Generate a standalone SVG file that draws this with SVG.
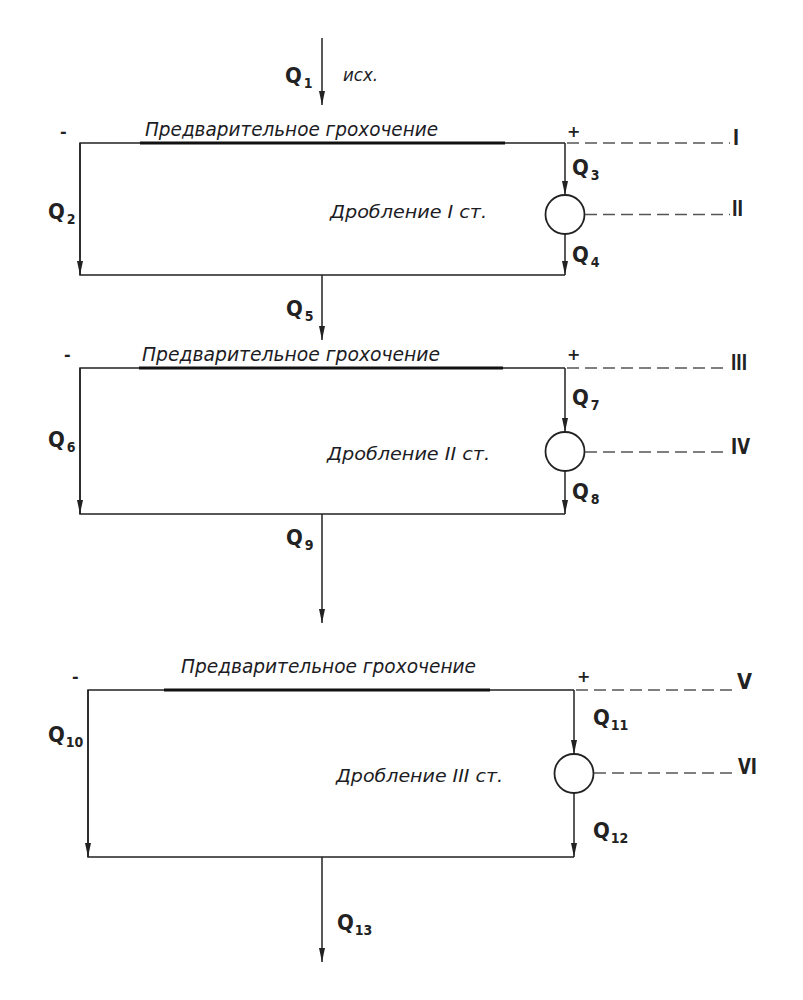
<svg xmlns="http://www.w3.org/2000/svg" width="803" height="1000" viewBox="0 0 803 1000">
<style>
.bg{fill:#fff}
.ln{stroke:#222;stroke-width:1.5;fill:none}
.thick{stroke:#111;stroke-width:3.2;fill:none}
.dash{stroke:#555;stroke-width:1.6;stroke-dasharray:12 6;fill:none}
.crc{stroke:#222;stroke-width:1.8;fill:#fff}
.q{font-family:"DejaVu Sans Condensed","DejaVu Sans",sans-serif;font-weight:bold;font-size:22px;fill:#222}
.sub{font-size:14px}
.rn{font-family:"DejaVu Sans Condensed","DejaVu Sans",sans-serif;font-weight:bold;font-size:22px;fill:#222}
.pm{font-family:"DejaVu Sans",sans-serif;font-weight:bold;font-size:16px;fill:#222}
.cap{font-family:"DejaVu Sans Condensed","DejaVu Sans",sans-serif;font-style:italic;font-size:20px;fill:#1c1c24}
.cap2{font-family:"DejaVu Sans Condensed","DejaVu Sans",sans-serif;font-style:italic;font-size:18px;fill:#1c1c24}
</style>
<defs>
<marker id="ah" markerUnits="userSpaceOnUse" markerWidth="14" markerHeight="6" refX="14" refY="3" orient="auto">
<path d="M0,0 L14,3 L0,6 z" fill="#222"/>
</marker>
</defs>
<rect class="bg" x="0" y="0" width="803" height="1000"/>

<g id="connectors">
<line class="ln" x1="322" y1="38" x2="322" y2="105" marker-end="url(#ah)"/>
<line class="ln" x1="322" y1="275" x2="322" y2="340" marker-end="url(#ah)"/>
<line class="ln" x1="322" y1="514" x2="322" y2="623" marker-end="url(#ah)"/>
<line class="ln" x1="322" y1="857" x2="322" y2="962" marker-end="url(#ah)"/>
</g>

<g id="block1">
<polyline class="ln" points="565,143 80,143 80,275 565,275"/>
<line class="thick" x1="140" y1="143" x2="505" y2="143"/>
<line class="ln" x1="80" y1="143" x2="80" y2="275" marker-end="url(#ah)"/>
<line class="ln" x1="565" y1="143" x2="565" y2="195" marker-end="url(#ah)"/>
<line class="ln" x1="565" y1="234" x2="565" y2="275" marker-end="url(#ah)"/>
<circle class="crc" cx="565" cy="214.5" r="19.5"/>
<line class="dash" x1="567" y1="143" x2="730" y2="143"/>
<line class="dash" x1="585" y1="214.5" x2="730" y2="214.5"/>
<text class="pm" x="60" y="137">-</text>
<text class="pm" x="567" y="137">+</text>
<text class="cap" x="145" y="136" textLength="293" lengthAdjust="spacingAndGlyphs">Предварительное грохочение</text>
<text class="cap2" x="330" y="218" textLength="157" lengthAdjust="spacingAndGlyphs">Дробление I ст.</text>
<text class="rn" x="733" y="145" textLength="6" lengthAdjust="spacingAndGlyphs">I</text>
<text class="rn" x="732" y="216" textLength="11" lengthAdjust="spacingAndGlyphs">II</text>
</g>

<g id="block2">
<polyline class="ln" points="565,368 80,368 80,514 565,514"/>
<line class="thick" x1="139" y1="368" x2="503" y2="368"/>
<line class="ln" x1="80" y1="368" x2="80" y2="514" marker-end="url(#ah)"/>
<line class="ln" x1="565" y1="368" x2="565" y2="432" marker-end="url(#ah)"/>
<line class="ln" x1="565" y1="471" x2="565" y2="514" marker-end="url(#ah)"/>
<circle class="crc" cx="565" cy="451.5" r="19.5"/>
<line class="dash" x1="567" y1="368" x2="728" y2="368"/>
<line class="dash" x1="585" y1="452" x2="728" y2="452"/>
<text class="pm" x="64" y="360">-</text>
<text class="pm" x="567" y="360">+</text>
<text class="cap" x="142" y="361" textLength="298" lengthAdjust="spacingAndGlyphs">Предварительное грохочение</text>
<text class="cap2" x="327" y="460" textLength="163" lengthAdjust="spacingAndGlyphs">Дробление II ст.</text>
<text class="rn" x="731" y="370" textLength="16" lengthAdjust="spacingAndGlyphs">III</text>
<text class="rn" x="731" y="454" textLength="19" lengthAdjust="spacingAndGlyphs">IV</text>
</g>

<g id="block3">
<polyline class="ln" points="574,690 88,690 88,857 574,857"/>
<line class="thick" x1="164" y1="690" x2="490" y2="690"/>
<line class="ln" x1="88" y1="690" x2="88" y2="857" marker-end="url(#ah)"/>
<line class="ln" x1="574" y1="690" x2="574" y2="754" marker-end="url(#ah)"/>
<line class="ln" x1="574" y1="793" x2="574" y2="857" marker-end="url(#ah)"/>
<circle class="crc" cx="574" cy="773.5" r="19.5"/>
<line class="dash" x1="576" y1="690" x2="735" y2="690"/>
<line class="dash" x1="594" y1="773" x2="735" y2="773"/>
<text class="pm" x="72" y="682">-</text>
<text class="pm" x="577" y="682">+</text>
<text class="cap" x="181" y="673" textLength="295" lengthAdjust="spacingAndGlyphs">Предварительное грохочение</text>
<text class="cap2" x="336" y="782" textLength="167" lengthAdjust="spacingAndGlyphs">Дробление III ст.</text>
<text class="rn" x="737" y="689" textLength="15" lengthAdjust="spacingAndGlyphs">V</text>
<text class="rn" x="738" y="774" textLength="19" lengthAdjust="spacingAndGlyphs">VI</text>
</g>

<g id="labels">
<text class="q" x="285" y="83">Q<tspan class="sub" dx="2" dy="5">1</tspan></text>
<text class="cap2" x="343" y="81" textLength="35" lengthAdjust="spacingAndGlyphs">исх.</text>
<text class="q" x="48" y="219">Q<tspan class="sub" dx="2" dy="5">2</tspan></text>
<text class="q" x="572" y="175">Q<tspan class="sub" dx="2" dy="5">3</tspan></text>
<text class="q" x="572" y="262">Q<tspan class="sub" dx="2" dy="5">4</tspan></text>
<text class="q" x="286" y="316">Q<tspan class="sub" dx="2" dy="5">5</tspan></text>
<text class="q" x="48" y="447">Q<tspan class="sub" dx="2" dy="5">6</tspan></text>
<text class="q" x="572" y="405">Q<tspan class="sub" dx="2" dy="5">7</tspan></text>
<text class="q" x="572" y="499">Q<tspan class="sub" dx="2" dy="5">8</tspan></text>
<text class="q" x="286" y="545">Q<tspan class="sub" dx="2" dy="5">9</tspan></text>
<text class="q" x="48" y="742">Q<tspan class="sub" dx="1" dy="5">10</tspan></text>
<text class="q" x="593" y="725">Q<tspan class="sub" dx="1" dy="5">11</tspan></text>
<text class="q" x="593" y="838">Q<tspan class="sub" dx="1" dy="5">12</tspan></text>
<text class="q" x="337" y="930">Q<tspan class="sub" dx="1" dy="5">13</tspan></text>
</g>
</svg>
